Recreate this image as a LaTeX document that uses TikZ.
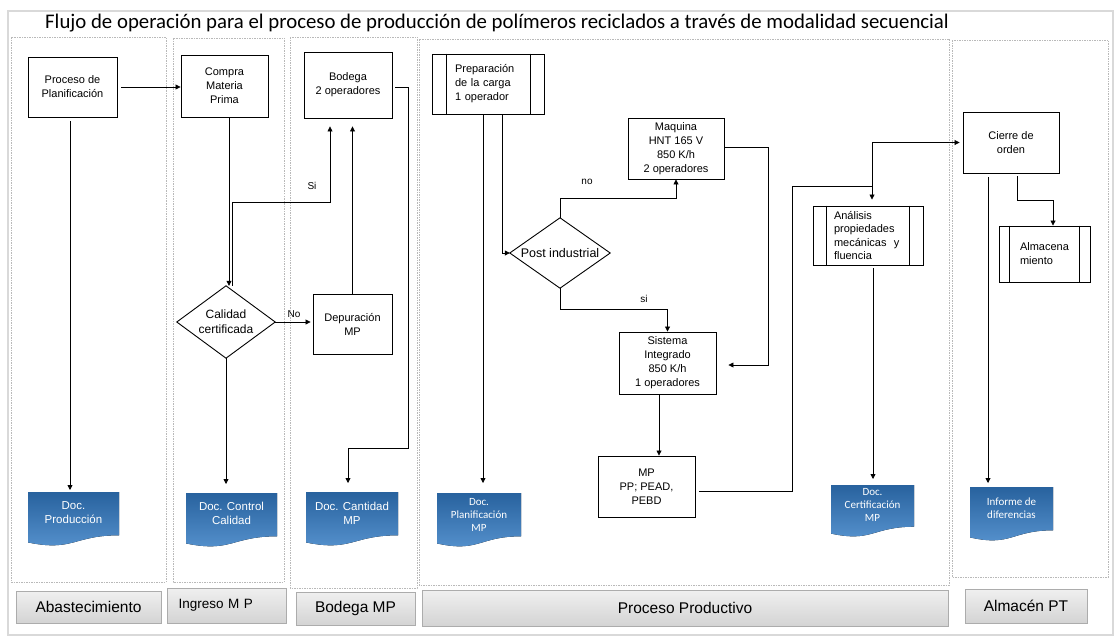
\documentclass[tikz,border=0pt]{standalone}
\usepackage{fontspec}
\setmainfont{Liberation Sans}
\newfontfamily\calib{Carlito}
\usetikzlibrary{arrows.meta,calc}

\newcommand\docshp[8]{%
  \fill[doc] (#2,#3) -- ({#2+#4},#3) -- ({#2+#4},{#3+0.802*#5})
    .. controls ({#2+0.5*#4},{#3+0.802*#5}) and ({#2+0.5*#4},{#3+1.107*#5}) .. (#2,{#3+0.934*#5}) -- cycle;
  \node[doctext,font=#6,minimum width=#4pt,minimum height={2*#7pt},anchor=north] (#1) at ({#2+0.5*#4},#3) {#8};
}

\begin{document}
\begin{tikzpicture}[x=1pt,y=-1pt,
  box/.style={draw=black,line width=0.9pt,fill=white,inner sep=0pt,align=center,font=\fontsize{11}{14}\selectfont},
  arr/.style={draw=black,line width=0.8pt,-{Triangle[length=5pt,width=5pt]}},
  lane/.style={draw=gray!55,line width=0.6pt,dash pattern=on 1.5pt off 1pt},
  lab/.style={draw=gray!65,line width=0.8pt,top color=gray!12,bottom color=gray!34,inner sep=0pt,font=\fontsize{15.5}{18}\selectfont},
  doc/.style={top color={rgb,255:red,40;green,98;blue,158},middle color={rgb,255:red,58;green,118;blue,180},bottom color={rgb,255:red,88;green,148;blue,208}},
  doctext/.style={text=white,align=center,inner sep=0pt},
  lbl/.style={font=\fontsize{10}{12}\selectfont,inner sep=0pt}
]
\useasboundingbox (0,0) rectangle (1115,637);
\draw[gray!30,line width=1.5pt] (8,11) rectangle (1113,635);

\node[anchor=base west,inner sep=0pt,font=\calib\fontsize{20.8}{22}\selectfont] (title) at (45,28)
  {Flujo de operación para el proceso de producción de polímeros reciclados a través de modalidad secuencial};

% lanes
\draw[lane] (11,37) rectangle (166,582);
\draw[lane] (173,38) rectangle (284,582);
\draw[lane] (290,37) rectangle (417,588);
\draw[lane] (419,39) rectangle (949,585);
\draw[lane] (952,40) rectangle (1108,577);

% lane labels
\node[lab,minimum width=145pt,minimum height=32pt] (labA) at (88.5,607) {Abastecimiento};
\node[lab,minimum width=119pt,minimum height=35pt,text width=96pt,align=left,font=\fontsize{13.5}{16}\selectfont] (labI) at (226.5,605.5) {Ingreso M P};
\node[lab,minimum width=119pt,minimum height=33pt] (labB) at (355.5,608.5) {Bodega MP};
\node[lab,minimum width=526pt,minimum height=36pt] (labP) at (685,608) {Proceso Productivo};
\node[lab,minimum width=122pt,minimum height=34pt] (labT) at (1026,606) {Almacén PT};

% boxes
\node[box,minimum width=89pt,minimum height=60pt] (plan) at (72.5,87) {Proceso de\\Planificación};
\node[box,minimum width=87pt,minimum height=62pt] (compra) at (224.5,86) {Compra\\Materia\\Prima};
\node[box,minimum width=88pt,minimum height=66pt] (bod) at (348,85) {Bodega\\2 operadores};
\node[box,minimum width=79pt,minimum height=60pt] (dep) at (352.5,324) {Depuración\\MP};
\node[minimum width=98pt,minimum height=72pt,inner sep=0pt,align=center,font=\fontsize{12}{15}\selectfont] (cal) at (226,322) {Calidad\\certificada};
\draw[line width=0.9pt] (cal.north) -- (cal.east) -- (cal.south) -- (cal.west) -- cycle;

\node[box,minimum width=112pt,minimum height=60pt,text width=66pt,align=left] (prep) at (488,84) {Preparación\\de la carga\\1 operador};
\draw[line width=0.9pt] ([xshift=15pt]prep.north west) -- ([xshift=15pt]prep.south west);
\draw[line width=0.9pt] ([xshift=-14pt]prep.north east) -- ([xshift=-14pt]prep.south east);

\node[minimum width=100pt,minimum height=70pt,inner sep=0pt,font=\fontsize{12.5}{15}\selectfont] (post) at (560,253) {Post industrial};
\draw[line width=0.9pt] (post.north) -- (post.east) -- (post.south) -- (post.west) -- cycle;

\node[box,minimum width=96pt,minimum height=61pt] (maq) at (676,148.5) {Maquina\\HNT 165 V\\850 K/h\\2 operadores};
\node[box,minimum width=97pt,minimum height=62pt] (sis) at (667.5,363) {Sistema\\Integrado\\850 K/h\\1 operadores};
\node[box,minimum width=97pt,minimum height=61pt] (mp) at (646.5,486.5) {MP\\PP; PEAD,\\PEBD};

\node[box,minimum width=110pt,minimum height=59pt,text width=68pt,align=left,font=\fontsize{11}{13.5}\selectfont] (ana) at (868,235.5) {Análisis\\propiedades\\mecánicas\ \ y\\fluencia};
\draw[line width=0.9pt] ([xshift=14pt]ana.north west) -- ([xshift=14pt]ana.south west);
\draw[line width=0.9pt] ([xshift=-14pt]ana.north east) -- ([xshift=-14pt]ana.south east);

\node[box,minimum width=96pt,minimum height=61pt] (cie) at (1011,142.5) {Cierre de\\orden};
\node[box,minimum width=91pt,minimum height=56pt,text width=49pt,align=left] (alm) at (1044.5,254) {Almacena\\miento};
\draw[line width=0.9pt] ([xshift=11pt]alm.north west) -- ([xshift=11pt]alm.south west);
\draw[line width=0.9pt] ([xshift=-11pt]alm.north east) -- ([xshift=-11pt]alm.south east);

% documents
\docshp{dprod}{28}{492}{91}{54}{\fontsize{11.5}{13.5}\selectfont}{20.5}{Doc.\\Producción}
\docshp{dctrl}{186}{493}{91}{54}{\fontsize{11.5}{14}\selectfont}{20}{Doc. Control\\Calidad}
\docshp{dcant}{306}{492}{92}{54}{\fontsize{11.5}{14}\selectfont}{21}{Doc. Cantidad\\MP}
\docshp{dplan}{437}{493}{84}{54}{\calib\fontsize{11}{13}\selectfont}{22}{Doc.\\Planificación\\MP}
\docshp{dcert}{831}{485}{83}{52}{\calib\fontsize{11}{13}\selectfont}{20}{Doc.\\Certificación\\MP}
\docshp{dinf}{970}{487}{83}{54}{\calib\fontsize{11}{13}\selectfont}{21.5}{Informe de\\diferencias}

% connectors
\draw[arr,shorten <=4pt] (plan.east) -- (plan.east -| compra.west);
\draw[arr,shorten <=4pt,shorten >=2pt] ([xshift=-2.5pt]plan.south) -- ([xshift=-2.5pt]plan.south |- dprod.north);
\draw[arr] ([xshift=4.5pt]compra.south) -- ([xshift=4.5pt]compra.south |- cal.north);
\coordinate (siT) at (330,202);
\draw[arr,shorten >=8pt] ([xshift=6pt]cal.north) |- (siT) -- (siT |- bod.south);
\node[lbl] (si1) at (312,186) {Si};
\draw[arr,shorten >=8pt] (dep.north) -- (dep.north |- bod.south);
\draw[arr,shorten >=2pt] (cal.east) -- (cal.east -| dep.west);
\node[lbl] (no1) at (294,314) {No};
\draw[arr,shorten >=9pt] (cal.south) -- (cal.south |- dctrl.north);
\coordinate (b1) at (408,448);
\draw[arr,shorten >=9pt] ([xshift=3pt,yshift=-2pt]bod.east) -| (b1) -| ([xshift=-4pt]dcant.north);

\draw[arr,shorten >=10pt] ([xshift=-5pt]prep.south) -- ([xshift=-5pt]prep.south |- dplan.north);
\draw[arr] ([xshift=14pt]prep.south) |- (post.west);
\draw[arr] (post.north) -- ++(0,-19) -| (maq.south);
\node[lbl] (no2) at (587,182) {no};
\draw[arr] (post.south) -- ++(0,21) -| (sis.north);
\node[lbl] (si2) at (644,299) {si};
\coordinate (m1) at (768,365);
\draw[arr,shorten >=12pt] ([yshift=1.5pt]maq.east) -| (m1) -- (m1 -| sis.east);
\draw[arr] ([xshift=-8.5pt]sis.south) -- ([xshift=-8.5pt]sis.south |- mp.north);
\coordinate (c1) at (792,186);
\coordinate (c2) at (872,186);
\draw[arr,shorten >=6pt] ([xshift=4pt,yshift=-4.5pt]mp.east) -| (c1) -- (c2) -- (c2 |- ana.north);
\draw[arr,shorten >=3pt] (c2) |- (cie.west);
\draw[arr,shorten <=3pt,shorten >=6pt] ([xshift=5pt]ana.south) -- ([xshift=5pt]ana.south |- dcert.north);
\draw[arr,shorten <=4pt,shorten >=4pt] ([xshift=-23pt]cie.south) -- ([xshift=-23pt]cie.south |- dinf.north);
\draw[arr,shorten <=3pt] ([xshift=6pt]cie.south) -- ++(0,27) -| ([xshift=8.5pt]alm.north);
\end{tikzpicture}
\end{document}
